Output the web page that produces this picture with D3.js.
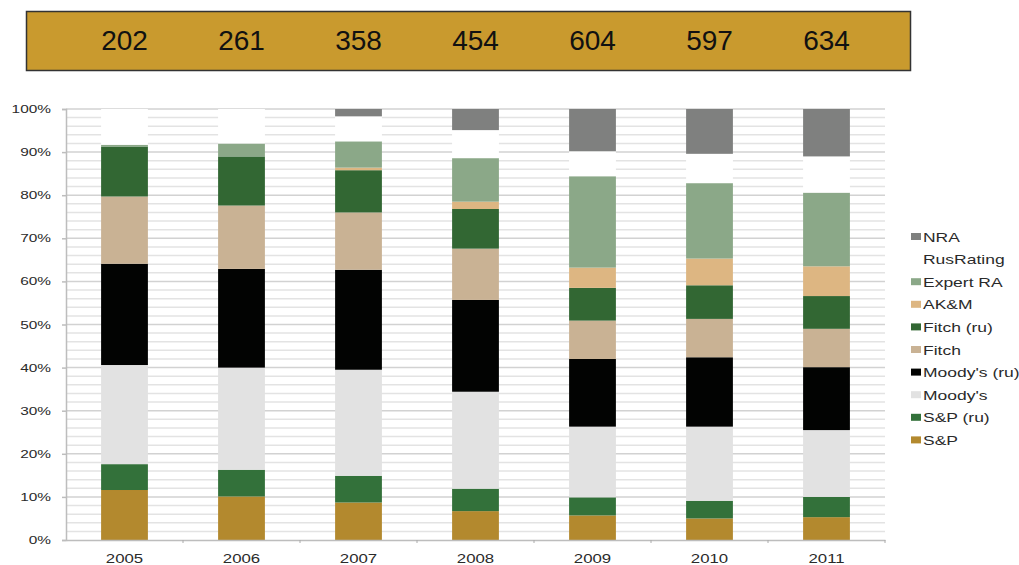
<!DOCTYPE html>
<html>
<head>
<meta charset="utf-8">
<script src="https://cdn.jsdelivr.net/npm/d3@7"></script>
<style>
  body { margin: 0; background: #fff; }
  svg { display: block; font-family: "Liberation Sans", Arial, sans-serif; }
</style>
</head>
<body>
<div id="chart"></div>
<script>
// years and total counts shown in the top banner
const years = ["2005", "2006", "2007", "2008", "2009", "2010", "2011"];
const totals = [202, 261, 358, 454, 604, 597, 634];

// series, bottom to top of each stack (shares in %)
const seriesNames = ["S&P", "S&P (ru)", "Moody's", "Moody's (ru)", "Fitch", "Fitch (ru)", "AK&M", "Expert RA", "RusRating", "NRA"];
const seriesColors = ["#b3892e", "#33713a", "#e2e2e2", "#020302", "#c9b294", "#326733", "#ddb682", "#8ba888", "#ffffff", "#7f807f"];

const sp       = [11.6, 10.1, 8.7, 6.7, 5.7, 5.0, 5.3];
const spRu     = [6.0, 6.2, 6.2, 5.2, 4.2, 4.1, 4.7];
const moodys   = [23.0, 23.7, 24.6, 22.5, 16.4, 17.2, 15.5];
const moodysRu = [23.5, 22.9, 23.2, 21.3, 15.7, 16.1, 14.6];
const fitch    = [15.6, 14.7, 13.3, 11.9, 8.9, 8.9, 8.9];
const fitchRu  = [11.6, 11.4, 9.8, 9.2, 7.6, 7.8, 7.6];
const akm      = [0.0, 0.0, 0.6, 1.7, 4.7, 6.2, 6.9];
const expertRa = [0.4, 3.0, 6.1, 10.1, 21.2, 17.5, 17.1];
const rusRating = [8.3, 8.0, 5.8, 6.5, 5.8, 6.8, 8.4];
const nra      = [0.0, 0.0, 1.7, 4.9, 9.8, 10.4, 11.0];

const seriesValues = [sp, spRu, moodys, moodysRu, fitch, fitchRu, akm, expertRa, rusRating, nra];

const yTicks = [0, 10, 20, 30, 40, 50, 60, 70, 80, 90, 100];

const width = 1019, height = 565;
const margin = {top: 109, right: 134, bottom: 25, left: 66};
const innerW = width - margin.left - margin.right;
const innerH = height - margin.top - margin.bottom;
const textStretch = 1.4;

const svg = d3.select("#chart")
  .append("svg")
    .attr("width", width)
    .attr("height", height);

// build table for the stack
const table = years.map((yr, i) => {
  const row = {year: yr};
  seriesNames.forEach((name, s) => { row[name] = seriesValues[s][i]; });
  return row;
});
const stacked = d3.stack().keys(seriesNames)(table);

const x = d3.scaleBand()
  .domain(years)
  .range([margin.left, margin.left + innerW])
  .paddingInner(0.6)
  .paddingOuter(0.3);

const y = d3.scaleLinear()
  .domain([0, 100])
  .range([margin.top + innerH, margin.top]);

const color = d3.scaleOrdinal().domain(seriesNames).range(seriesColors);

// top banner with totals
svg.append("rect")
  .attr("x", 26.5)
  .attr("y", 11.5)
  .attr("width", 884)
  .attr("height", 59)
  .attr("fill", "#c99a2e")
  .attr("stroke", "#333")
  .attr("stroke-width", 1.5);

svg.append("g")
  .selectAll("text")
  .data(totals)
  .join("text")
    .attr("x", (d, i) => x(years[i]) + x.bandwidth() / 2)
    .attr("y", 50)
    .attr("text-anchor", "middle")
    .style("font-size", "28px")
    .style("fill", "#111")
    .text(d => d);

// gridlines: minor every 2%, major every 10%
const minorTicks = d3.range(2, 101, 2).filter(v => v % 10 !== 0);
svg.append("g")
  .selectAll("line")
  .data(minorTicks)
  .join("line")
    .attr("x1", margin.left)
    .attr("x2", margin.left + innerW)
    .attr("y1", d => y(d))
    .attr("y2", d => y(d))
    .attr("stroke", "#e3e3e3")
    .attr("stroke-width", 1.5);

svg.append("g")
  .selectAll("line")
  .data(yTicks.slice(1))
  .join("line")
    .attr("x1", margin.left)
    .attr("x2", margin.left + innerW)
    .attr("y1", d => y(d))
    .attr("y2", d => y(d))
    .attr("stroke", "#d2d2d2")
    .attr("stroke-width", 1.5);

// stacked bars
svg.append("g")
  .selectAll("g")
  .data(stacked)
  .join("g")
    .attr("fill", d => color(d.key))
  .selectAll("rect")
  .data(d => d)
  .join("rect")
    .attr("x", d => x(d.data.year))
    .attr("y", d => y(d[1]))
    .attr("width", x.bandwidth())
    .attr("height", d => Math.max(0, y(d[0]) - y(d[1])));

// y axis
const yAxis = svg.append("g")
  .attr("transform", `translate(${margin.left},0)`)
  .call(d3.axisLeft(y).tickValues(yTicks).tickSize(4).tickFormat(""));
yAxis.select(".domain").attr("stroke", "#bdbdbd").attr("stroke-width", 1.5);
yAxis.selectAll(".tick line").attr("stroke", "#bdbdbd").attr("stroke-width", 1.5);

svg.append("g")
  .selectAll("text")
  .data(yTicks)
  .join("text")
    .attr("transform", d => `translate(51,${y(d) + 4}) scale(${textStretch},1)`)
    .attr("text-anchor", "end")
    .style("font-size", "11px")
    .style("fill", "#2a2a2a")
    .text(d => d + "%");

// x axis
const xAxis = svg.append("g")
  .attr("transform", `translate(0,${margin.top + innerH})`)
  .call(d3.axisBottom(x).tickSize(0).tickFormat(""));
xAxis.select(".domain").attr("stroke", "#bdbdbd").attr("stroke-width", 1.5);

const step = x.step();
svg.append("g")
  .selectAll("line")
  .data(years.slice(1).concat(["end"]))
  .join("line")
    .attr("x1", (d, i) => margin.left + (i + 1) * innerW / years.length)
    .attr("x2", (d, i) => margin.left + (i + 1) * innerW / years.length)
    .attr("y1", margin.top + innerH)
    .attr("y2", margin.top + innerH + 3)
    .attr("stroke", "#aaa");

svg.append("g")
  .selectAll("text")
  .data(years)
  .join("text")
    .attr("transform", d => `translate(${x(d) + x.bandwidth() / 2},563) scale(${textStretch},1)`)
    .attr("text-anchor", "middle")
    .style("font-size", "12px")
    .style("fill", "#2a2a2a")
    .text(d => d);

// legend, top to bottom reversed stack order
const legendNames = seriesNames.slice().reverse();
const legend = svg.append("g")
  .selectAll("g")
  .data(legendNames)
  .join("g")
    .attr("transform", (d, i) => `translate(911,${237 + i * 22.6})`);

legend.append("rect")
  .attr("x", 0)
  .attr("y", -4)
  .attr("width", 10)
  .attr("height", 7)
  .attr("fill", d => color(d));

legend.append("text")
  .attr("transform", `translate(12,4.5) scale(${textStretch},1)`)
  .style("font-size", "12.5px")
  .style("fill", "#2a2a2a")
  .text(d => d);
</script>
</body>
</html>
